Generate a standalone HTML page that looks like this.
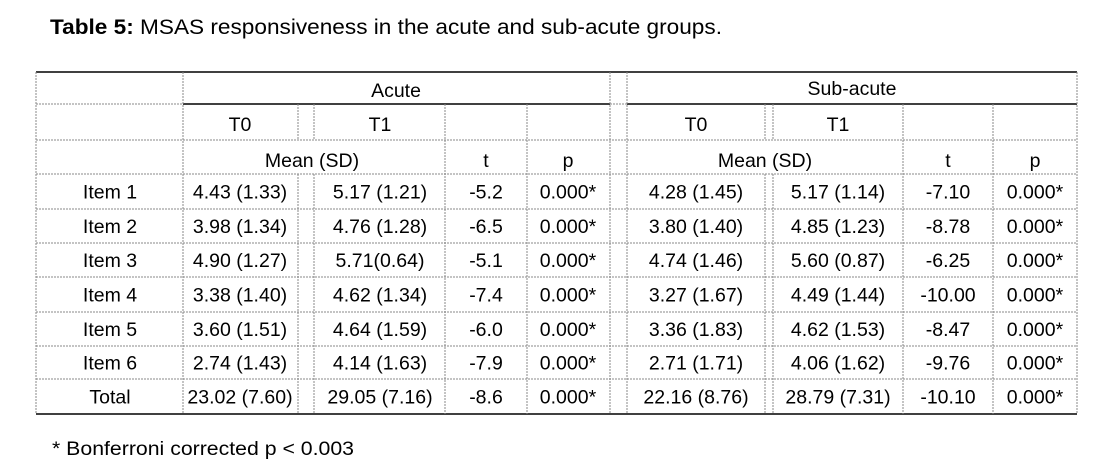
<!DOCTYPE html>
<html><head><meta charset="utf-8"><style>
body{margin:0;background:#fff;}
svg{display:block;font-family:"Liberation Sans",sans-serif;}
text{fill:#000;}
</style></head><body>
<svg id="s" width="1097" height="473" viewBox="0 0 1097 473">
<text x="50" y="34" font-size="21" textLength="672" lengthAdjust="spacingAndGlyphs"><tspan font-weight="bold">Table 5:</tspan> MSAS responsiveness in the acute and sub-acute groups.</text>
<text x="52" y="455" font-size="19" textLength="302" lengthAdjust="spacingAndGlyphs">* Bonferroni corrected p &lt; 0.003</text>
<g id="lines"></g>
<g id="cells"></g>
</svg>
<script>
const rowLabels=["Item 1","Item 2","Item 3","Item 4","Item 5","Item 6","Total"];
const acuteT0=["4.43 (1.33)","3.98 (1.34)","4.90 (1.27)","3.38 (1.40)","3.60 (1.51)","2.74 (1.43)","23.02 (7.60)"];
const acuteT1=["5.17 (1.21)","4.76 (1.28)","5.71(0.64)","4.62 (1.34)","4.64 (1.59)","4.14 (1.63)","29.05 (7.16)"];
const acuteT=["-5.2","-6.5","-5.1","-7.4","-6.0","-7.9","-8.6"];
const acuteP=["0.000*","0.000*","0.000*","0.000*","0.000*","0.000*","0.000*"];
const subT0=["4.28 (1.45)","3.80 (1.40)","4.74 (1.46)","3.27 (1.67)","3.36 (1.83)","2.71 (1.71)","22.16 (8.76)"];
const subT1=["5.17 (1.14)","4.85 (1.23)","5.60 (0.87)","4.49 (1.44)","4.62 (1.53)","4.06 (1.62)","28.79 (7.31)"];
const subT=["-7.10","-8.78","-6.25","-10.00","-8.47","-9.76","-10.10"];
const subP=["0.000*","0.000*","0.000*","0.000*","0.000*","0.000*","0.000*"];

const NS="http://www.w3.org/2000/svg";
const L=document.getElementById('lines'),C=document.getElementById('cells');
const H=[72,104,140,174,209,243,277,312,346,379,414];
function line(x1,y1,x2,y2,solid,name){
  const l=document.createElementNS(NS,'line');
  l.setAttribute('x1',x1);l.setAttribute('y1',y1);l.setAttribute('x2',x2);l.setAttribute('y2',y2);
  l.setAttribute('stroke',solid?'#000':'#888');
  l.setAttribute('stroke-width',solid?1.5:1);
  if(!solid)l.setAttribute('stroke-dasharray','2,1');
  
  
  L.appendChild(l);
}
function txt(x,y,s,name){
  const t=document.createElementNS(NS,'text');
  t.setAttribute('x',x);t.setAttribute('y',y);t.setAttribute('font-size','19.5');
  t.setAttribute('text-anchor','middle');
  t.textContent=s;
  
  
  C.appendChild(t);
}
line(36,72,1077,72,true,'top-rule');
line(36,104,183,104,false,'grid-line');
line(183,104,610,104,true,'acute-rule');
line(610,104,627,104,false,'grid-line');
line(627,104,1077,104,true,'subacute-rule');
for(let i=2;i<H.length-1;i++)line(36,H[i],1077,H[i],false,'grid-line');
line(36,414,1077,414,true,'bottom-rule');
[36,183,610,627,1077].forEach(x=>line(x,72,x,414,false,'grid-line'));
[298,314,765,773].forEach(x=>{line(x,104,x,140,false,'grid-line');line(x,174,x,414,false,'grid-line');});
[445,527,903,993].forEach(x=>line(x,104,x,414,false,'grid-line'));
txt(396,97,'Acute','acute-header');
txt(852,95,'Sub-acute','subacute-header');
txt(240,131,'T0','acute-t0-header');txt(380,131,'T1','acute-t1-header');
txt(696,131,'T0','subacute-t0-header');txt(838,131,'T1','subacute-t1-header');
txt(312,167,'Mean (SD)','acute-mean-header');txt(486,167,'t','acute-t-header');txt(568,167,'p','acute-p-header');
txt(765,167,'Mean (SD)','subacute-mean-header');txt(948,167,'t','subacute-t-header');txt(1035,167,'p','subacute-p-header');
const cols=[[110,rowLabels,'row-label'],[240,acuteT0,'acute-t0'],[380,acuteT1,'acute-t1'],[486,acuteT,'acute-t'],[568,acuteP,'acute-p'],
[696,subT0,'subacute-t0'],[838,subT1,'subacute-t1'],[948,subT,'subacute-t'],[1035,subP,'subacute-p']];
for(let r=0;r<rowLabels.length;r++){
  const y=(H[r+3]+H[r+4])/2+7;
  cols.forEach(c=>txt(c[0],y,c[1][r],c[2]));
}
</script>
</body></html>
